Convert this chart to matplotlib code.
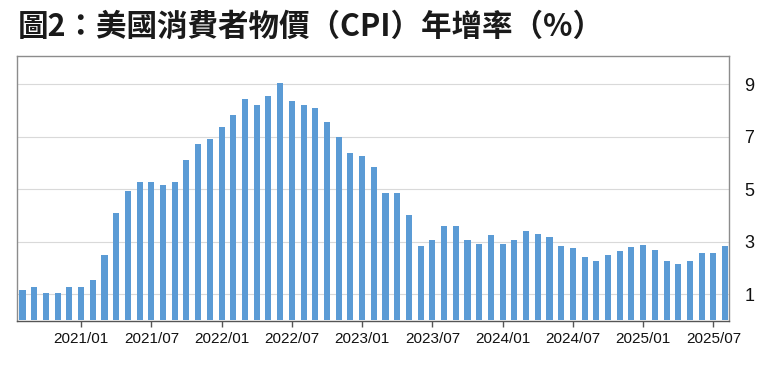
import matplotlib
matplotlib.use("Agg")
import matplotlib.pyplot as plt

months = ["2020/08", "2020/09", "2020/10", "2020/11", "2020/12",
          "2021/01", "2021/02", "2021/03", "2021/04", "2021/05", "2021/06",
          "2021/07", "2021/08", "2021/09", "2021/10", "2021/11", "2021/12",
          "2022/01", "2022/02", "2022/03", "2022/04", "2022/05", "2022/06",
          "2022/07", "2022/08", "2022/09", "2022/10", "2022/11", "2022/12",
          "2023/01", "2023/02", "2023/03", "2023/04", "2023/05", "2023/06",
          "2023/07", "2023/08", "2023/09", "2023/10", "2023/11", "2023/12",
          "2024/01", "2024/02", "2024/03", "2024/04", "2024/05", "2024/06",
          "2024/07", "2024/08", "2024/09", "2024/10", "2024/11", "2024/12",
          "2025/01", "2025/02", "2025/03", "2025/04", "2025/05", "2025/06",
          "2025/07", "2025/08"]

cpi_yoy = [1.15, 1.28, 1.05, 1.05, 1.28,
           1.28, 1.54, 2.50, 4.11, 4.93, 5.27,
           5.27, 5.17, 5.27, 6.10, 6.70, 6.90,
           7.38, 7.83, 8.42, 8.20, 8.56, 9.03,
           8.37, 8.20, 8.10, 7.55, 6.98, 6.39,
           6.28, 5.85, 4.87, 4.87, 4.01, 2.83,
           3.05, 3.60, 3.60, 3.05, 2.93, 3.27,
           2.93, 3.06, 3.40, 3.29, 3.16, 2.83,
           2.77, 2.40, 2.27, 2.51, 2.64, 2.78,
           2.87, 2.68, 2.27, 2.14, 2.27, 2.58,
           2.58, 2.83]

tick_labels = ["2021/01", "2021/07", "2022/01", "2022/07", "2023/01",
               "2023/07", "2024/01", "2024/07", "2025/01", "2025/07"]
y_ticks = [1, 3, 5, 7, 9]

title = "圖2：美國消費者物價（CPI）年增率（%）"

fig = plt.figure(figsize=(7.6, 3.7), dpi=100)
ax = fig.add_axes([17 / 760, 1 - 321 / 370, (729 - 17) / 760, (321 - 55.7) / 370])

x = list(range(len(months)))
ax.bar(x, cpi_yoy, width=0.52, color="#5b9bd5", zorder=3)

ax.set_xlim(-0.47, 60.33)
ax.set_ylim(-0.02, 10.08)

tick_pos = [months.index(t) for t in tick_labels]
ax.set_xticks(tick_pos)
ax.set_xticklabels(tick_labels, fontfamily="Liberation Sans", fontsize=11, color="#111111")
ax.tick_params(axis="x", direction="out", length=4, width=1, color="#555555", pad=4)

ax.yaxis.tick_right()
ax.set_yticks(y_ticks)
ax.set_yticklabels([str(v) for v in y_ticks], fontfamily="Liberation Sans", fontsize=13, color="#111111")
ax.tick_params(axis="y", length=0, pad=11)

ax.grid(axis="y", color="#d9d9d9", linewidth=0.8, zorder=0)
ax.grid(axis="x", visible=False)

for side in ["left", "right", "top"]:
    ax.spines[side].set_color("#8c8c8c")
    ax.spines[side].set_linewidth(1.0)
ax.spines["bottom"].set_color("#555555")
ax.spines["bottom"].set_linewidth(1.0)

fig.text(18 / 760, 1 - 27 / 370, title, fontsize=22, fontweight="bold",
         family=["Noto Sans CJK TC", "DejaVu Sans"], color="#1a1a1a",
         ha="left", va="center")

fig.savefig("out.png", dpi=100)
